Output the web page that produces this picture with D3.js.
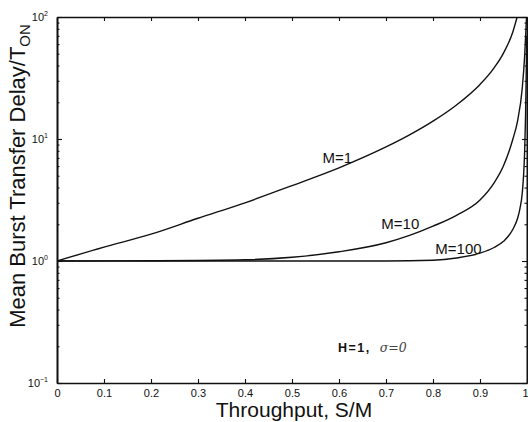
<!DOCTYPE html>
<html>
<head>
<meta charset="utf-8">
<script src="https://cdn.jsdelivr.net/npm/d3@7"></script>
<style>
  body { margin: 0; background: #fff; }
  svg { display: block; font-family: "Liberation Sans", Arial, Helvetica, sans-serif; }
  .axis path, .axis line { stroke: #111; }
  .axis path { stroke-width: 1.6; }
  .axis line { stroke-width: 1.1; }
  .axis text { font-size: 11px; fill: #111; }
  .curve { fill: none; stroke: #111; stroke-width: 1.4; }
</style>
</head>
<body>
<div id="chart"></div>
<script>
// data
var xTicks = [0, 0.1, 0.2, 0.3, 0.4, 0.5, 0.6, 0.7, 0.8, 0.9, 1];
var yDecades = [0.1, 1, 10, 100];
var yExponents = ["\u22121", "0", "1", "2"];

var m1X = [0, 0.1, 0.2, 0.3, 0.4, 0.5, 0.6, 0.7, 0.75, 0.8, 0.85, 0.9, 0.93, 0.95, 0.97, 0.979];
var m1Y = [1, 1.3, 1.66, 2.24, 3.0, 4.15, 5.8, 8.6, 10.8, 14.0, 19.0, 28.0, 38.3, 50.6, 75.8, 100];

var m10X = [0, 0.2, 0.4, 0.5, 0.6, 0.7, 0.75, 0.8, 0.85, 0.9, 0.93, 0.95, 0.97, 0.98, 0.99, 0.995, 0.999];
var m10Y = [1, 1.005, 1.023, 1.072, 1.19, 1.41, 1.62, 1.93, 2.37, 3.16, 4.37, 6.03, 10.0, 14.1, 26.3, 47.9, 100];

var m100X = [0, 0.5, 0.7, 0.8, 0.85, 0.9, 0.93, 0.95, 0.97, 0.98, 0.985, 0.99, 0.993, 0.995, 0.997, 0.999, 0.9995];
var m100Y = [1, 1, 1, 1.014, 1.059, 1.16, 1.29, 1.45, 1.82, 2.24, 2.69, 3.63, 5.25, 7.94, 15.8, 50, 70];

var curveLabels = ["M=1", "M=10", "M=100"];

var width = 528, height = 422;
var plotLeft = 57, plotRight = 527, plotTop = 17, plotBottom = 383;

var svg = d3.select("#chart").append("svg")
    .attr("width", width)
    .attr("height", height);

svg.append("rect").attr("width", width).attr("height", height).attr("fill", "#fff");

var x = d3.scaleLinear().domain([0, 1]).range([plotLeft, plotRight]);
var y = d3.scaleLog().domain([0.1, 100]).range([plotBottom, plotTop]);

// minor ticks for the log axis
var minors = [];
yDecades.slice(0, 3).forEach(function (d) {
    for (var k = 2; k <= 9; k++) minors.push(d * k);
});

svg.append("clipPath").attr("id", "plot")
  .append("rect")
    .attr("x", plotLeft).attr("y", plotTop)
    .attr("width", plotRight - plotLeft).attr("height", plotBottom - plotTop);

// x axes
var xb = svg.append("g").attr("class", "axis")
    .attr("transform", "translate(0," + plotBottom + ")")
    .call(d3.axisBottom(x).tickValues(xTicks).tickSizeInner(-4).tickSizeOuter(0).tickPadding(6)
        .tickFormat(function (d) { return (d === 0 || d === 1) ? String(d) : d.toFixed(1); }));
xb.selectAll(".tick text").filter(function (d) { return d === 1; }).attr("dx", -2);

svg.append("g").attr("class", "axis")
    .attr("transform", "translate(0," + plotTop + ")")
    .call(d3.axisTop(x).tickValues(xTicks).tickSizeInner(-4).tickSizeOuter(0).tickFormat(""));

// y axes
svg.append("g").attr("class", "axis")
    .attr("transform", "translate(" + plotLeft + ",0)")
    .call(d3.axisLeft(y).tickValues(yDecades).tickSizeInner(-5).tickSizeOuter(0).tickFormat(""));
svg.append("g").attr("class", "axis")
    .attr("transform", "translate(" + plotLeft + ",0)")
    .call(d3.axisLeft(y).tickValues(minors).tickSizeInner(-2.5).tickSizeOuter(0).tickFormat(""));

svg.append("g").attr("class", "axis")
    .attr("transform", "translate(" + plotRight + ",0)")
    .call(d3.axisRight(y).tickValues(yDecades).tickSizeInner(-5).tickSizeOuter(0).tickFormat(""));
svg.append("g").attr("class", "axis")
    .attr("transform", "translate(" + plotRight + ",0)")
    .call(d3.axisRight(y).tickValues(minors).tickSizeInner(-2.5).tickSizeOuter(0).tickFormat(""));

// y tick labels 10^n
var yl = svg.append("g")
    .selectAll("text")
    .data(yDecades)
    .enter().append("text")
    .attr("x", 48)
    .attr("y", function (d) { return y(d) + 4; })
    .attr("text-anchor", "end")
    .style("font-size", "11px")
    .style("fill", "#111");
yl.append("tspan").text("10");
yl.append("tspan")
    .attr("dy", -5)
    .style("font-size", "7px")
    .text(function (d, i) { return yExponents[i]; });

// curves
var line = d3.line()
    .x(function (d) { return x(d[0]); })
    .y(function (d) { return y(d[1]); })
    .curve(d3.curveMonotoneX);

var series = [d3.zip(m1X, m1Y), d3.zip(m10X, m10Y), d3.zip(m100X, m100Y)];

svg.append("g").attr("clip-path", "url(#plot)")
    .selectAll("path")
    .data(series)
    .enter().append("path")
    .attr("class", "curve")
    .attr("d", line);

// curve labels
var labelPos = [[0.565, 163], [0.69, 229], [0.805, 254]];
svg.append("g")
    .selectAll("text")
    .data(curveLabels)
    .enter().append("text")
    .attr("x", function (d, i) { return x(labelPos[i][0]); })
    .attr("y", function (d, i) { return labelPos[i][1]; })
    .style("font-size", "15px")
    .style("fill", "#111")
    .text(function (d) { return d; });

// parameter note
var note = svg.append("text")
    .attr("x", x(0.598)).attr("y", 352)
    .style("font-size", "12.5px")
    .style("fill", "#111");
note.append("tspan").style("font-weight", "bold").style("letter-spacing", "1.5px").text("H=1,");
note.append("tspan").attr("dx", 9)
    .style("font-family", "'DejaVu Serif', serif")
    .style("font-style", "italic")
    .style("fill", "#444")
    .text("\u03c3=0");

// axis titles
svg.append("text")
    .attr("x", 294).attr("y", 417)
    .attr("text-anchor", "middle")
    .style("font-size", "21px")
    .style("fill", "#111")
    .text("Throughput, S/M");

var yt = svg.append("text")
    .attr("transform", "translate(25,176) rotate(-90)")
    .attr("text-anchor", "middle")
    .style("font-size", "22px")
    .style("fill", "#111");
yt.append("tspan").text("Mean Burst Transfer Delay/T");
yt.append("tspan").attr("dy", 5).style("font-size", "15px").text("ON");
</script>
</body>
</html>
